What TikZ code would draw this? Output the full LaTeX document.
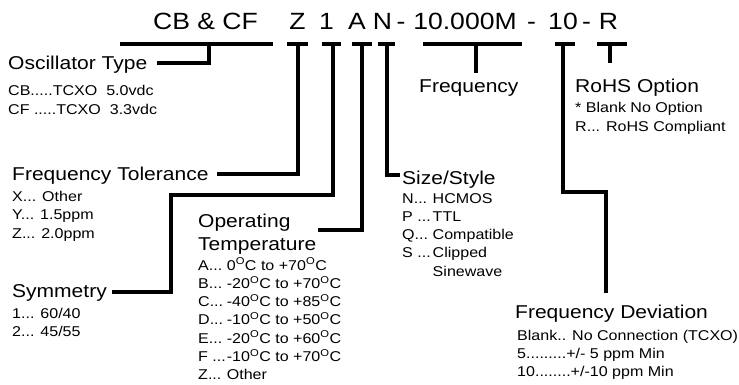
\documentclass[tikz,border=0pt]{standalone}
\usepackage{fontspec}
\setmainfont{Liberation Sans}[FakeStretch=1.13]
\usetikzlibrary{calc}

\newcommand{\degc}{\textsuperscript{O}C}

\begin{document}
\begin{tikzpicture}[x=1pt,y=-1pt,
  code/.style={font=\fontsize{23.5}{28}\selectfont, inner sep=0pt, anchor=base},
  head/.style={font=\fontsize{18.6}{23}\selectfont, inner sep=0pt, anchor=base west},
  items/.style={font=\fontsize{14.2}{18.3}\selectfont, inner sep=0pt, anchor=base west},
  bar/.style={line width=3.2pt},
  lead/.style={line width=3.2pt}]
			%%%%% START %%%%%
			\useasboundingbox (0,0) rectangle (739,385);

			% part number
			\node[code] (cbcf) at (205.5,30) {CB \& CF};
			\node[code] (zz) at (297.5,30) {Z};
			\node[code] (one) at (326.5,30) {1};
			\node[code] (aa) at (357,30) {A};
			\node[code] (nn) at (382.5,30) {N};
			\node[code] (dashA) at (401,30) {-};
			\node[code] (freqcode) at (465,30) {10.000M};
			\node[code] (dashB) at (531.5,30) {-};
			\node[code] (devcode) at (563,30) {10};
			\node[code] (dashC) at (586.5,30) {-};
			\node[code] (rr) at (608.5,30) {R};

			\draw[bar] (120,44) -- (273,44);
			\draw[bar] (287,44) -- (308,44);
			\draw[bar] (322,44) -- (341,44);
			\draw[bar] (352,44) -- (372,44);
			\draw[bar] (378,44) -- (395,44);
			\draw[bar] (423,44) -- (522,44);
			\draw[bar] (555,44) -- (575,44);
			\draw[bar] (597,44) -- (627,44);

			\coordinate (sOsc) at (209,44);
			\coordinate (sZ) at (298,44);
			\coordinate (sOne) at (333,44);
			\coordinate (sA) at (362,44);
			\coordinate (sN) at (387,44);
			\coordinate (sFreq) at (476,44);
			\coordinate (sDev) at (563,44);
			\coordinate (sR) at (610,44);

			% labels
			\node[head] (osc) at (8,70) {Oscillator Type};
			\node[items] (osclist) at (8,96) {\begin{tabular}[t]{@{}l@{}}CB.....TCXO\ \ 5.0vdc\\CF .....TCXO\ \ 3.3vdc\end{tabular}};

			\node[head] (tol) at (12,180) {Frequency Tolerance};
			\node[items] (tollist) at (12,201.5) {\begin{tabular}[t]{@{}l@{}}X... Other\\Y... 1.5ppm\\Z... 2.0ppm\end{tabular}};

			\node[head] (sym) at (12,297) {Symmetry};
			\node[items] (symlist) at (12,318) {\begin{tabular}[t]{@{}l@{}}1... 60/40\\2... 45/55\end{tabular}};

			\node[head] (oper) at (198,227) {\begin{tabular}[t]{@{}l@{}}Operating\\Temperature\end{tabular}};
			\node[items] (operlist) at (198,270) {\begin{tabular}[t]{@{}l@{\hspace{1pt}}l@{}}
				A...&0\degc{} to +70\degc\\
				B...&-20\degc{} to +70\degc\\
				C...&-40\degc{} to +85\degc\\
				D...&-10\degc{} to +50\degc\\
				E...&-20\degc{} to +60\degc\\
				F ...&-10\degc{} to +70\degc\\
				Z...&Other\end{tabular}};

			\node[head] (size) at (402,185) {Size/Style};
			\node[items] (sizelist) at (402,203) {\begin{tabular}[t]{@{}l@{\hspace{2pt}}l@{}}
				N...&HCMOS\\
				P ...&TTL\\
				Q...&Compatible\\
				S ...&Clipped\\
				&Sinewave\end{tabular}};

			\node[head] (freq) at (419,93) {Frequency};

			\node[head] (rohs) at (575,93) {RoHS Option};
			\node[items] (rohslist) at (575,113) {\begin{tabular}[t]{@{}l@{}}* Blank No Option\\R... RoHS Compliant\end{tabular}};

			\node[head] (dev) at (515,318.5) {Frequency Deviation};
			\node[items] (devlist) at (517,340) {\begin{tabular}[t]{@{}l@{}}Blank.. No Connection (TCXO)\\5.........+/- 5 ppm Min\\10........+/-10 ppm Min\end{tabular}};

			% leads
			\coordinate (kOne) at (171,195);
			\coordinate (kA) at ($(oper.base west)+(120,3)$);
			\coordinate (eFreq) at (476,73);
			\coordinate (kDev) at (606,192);
			\coordinate (eDev) at (606,293);
			\coordinate (eR) at (610,63);

			\draw[lead] (sOsc) |- ($(osc.base east)+(10,-7)$);
			\draw[lead] (sZ) |- ($(tol.base east)+(8,-6)$);
			\draw[lead] (sOne) |- (kOne) |- ($(sym.base east)+(5,-5)$);
			\draw[lead] (sA) |- (kA);
			\draw[lead] (sN) |- ($(size.base west)+(-2,-10)$);
			\draw[lead] (sFreq) -- (eFreq);
			\draw[lead] (sDev) |- (kDev) -- (eDev);
			\draw[lead] (sR) -- (eR);

			%%%%% END %%%%%
\end{tikzpicture}
\end{document}
